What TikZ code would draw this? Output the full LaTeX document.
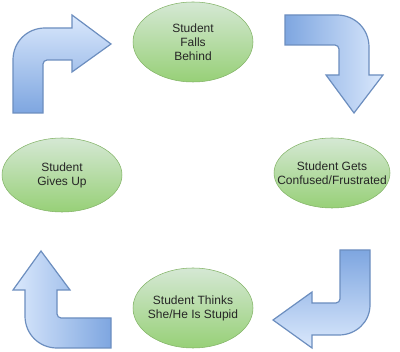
\documentclass[tikz,border=0pt]{standalone}
\usepackage{fontspec}
\setmainfont{Liberation Sans}
\definecolor{bluelight}{HTML}{DAE8FC}
\definecolor{bluedark}{HTML}{7EA6E0}
\definecolor{blueline}{HTML}{6C8EBF}
\definecolor{greenlight}{HTML}{D5E8D4}
\definecolor{greendark}{HTML}{97D077}
\definecolor{greenline}{HTML}{82B366}
\begin{document}
\begin{tikzpicture}[x=0.75pt, y=-0.75pt,
    bubble/.style={draw=greenline, top color=greenlight, bottom color=greendark},
    bubbletext/.style={align=center, text=black!85, font=\fontsize{9}{10.5}\selectfont},
    bentarrow/.style={draw=blueline, line width=0.9pt, line join=miter}]
    \useasboundingbox (0,0) rectangle (400,352);

    % Falls Behind (top)
    \shade[bubble] (193,42) ellipse [x radius=60, y radius=40];
    \node[bubbletext] (behind) at (193,42) {Student\\Falls\\Behind};

    % Confused/Frustrated (right)
    \shade[bubble] (332,173) ellipse [x radius=58, y radius=35];
    \node[bubbletext] (confused) at (332,173) {Student Gets\\Confused/Frustrated};

    % Thinks Stupid (bottom)
    \shade[bubble] (193,308) ellipse [x radius=60, y radius=40];
    \node[bubbletext] (stupid) at (193,308) {Student Thinks\\She/He Is Stupid};

    % Gives Up (left)
    \shade[bubble] (62,175) ellipse [x radius=60, y radius=37];
    \node[bubbletext] (givesup) at (62,175) {Student\\Gives Up};

    % Arrow top-left: up, then right
    \shade[bentarrow, top color=bluelight, bottom color=bluedark]
        (13,113) -- (13,60) .. controls (13,42) and (27,28) .. (45,28)
        -- (72,28) -- (72,15) -- (111,44) -- (72,72) -- (72,60) -- (47,60)
        .. controls (45,60) and (43,62) .. (43,64) -- (43,113) -- cycle;

    % Arrow top-right: right, then down
    \shade[bentarrow, left color=bluedark, right color=bluelight]
        (285,15) -- (337,15) .. controls (355,15) and (369,29) .. (369,47)
        -- (369,75) -- (383,75) -- (354,113) -- (326,75) -- (339,75) -- (339,49)
        .. controls (339,47) and (337,45) .. (335,45) -- (285,45) -- cycle;

    % Arrow bottom-right: down, then left
    \shade[bentarrow, top color=bluedark, bottom color=bluelight]
        (340,250) -- (370,250) -- (370,305) .. controls (370,322) and (356,335) .. (339,335)
        -- (312,335) -- (312,348) -- (273,320) -- (312,292) -- (312,303) -- (336,303)
        .. controls (338,303) and (340,301) .. (340,299) -- cycle;

    % Arrow bottom-left: left, then up
    \shade[bentarrow, left color=bluelight, right color=bluedark]
        (111,318) -- (61,318) .. controls (59,318) and (57,316) .. (57,314)
        -- (57,290) -- (70,290) -- (41,251) -- (13,290) -- (25,290) -- (25,316)
        .. controls (25,334) and (39,348) .. (57,348) -- (111,348) -- cycle;
\end{tikzpicture}
\end{document}
